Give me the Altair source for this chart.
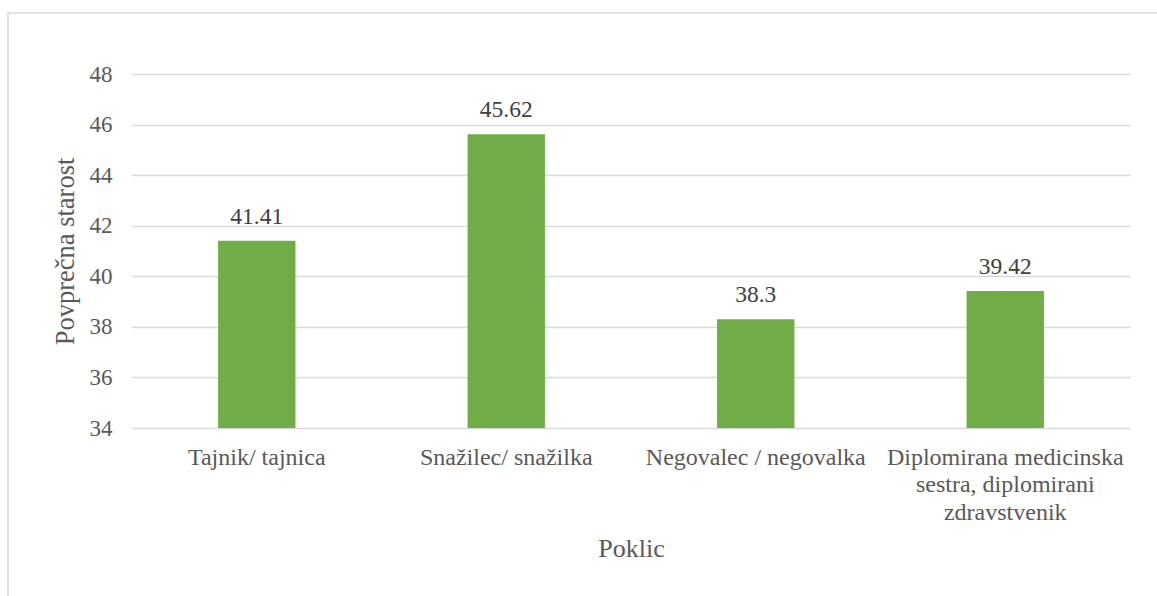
import altair as alt
import pandas as pd

# Average age by occupation
occupations = [
    "Tajnik/ tajnica",
    "Snažilec/ snažilka",
    "Negovalec / negovalka",
    "Diplomirana medicinska|sestra, diplomirani|zdravstvenik",
]
avg_age = [41.41, 45.62, 38.3, 39.42]
value_labels = ["41.41", "45.62", "38.3", "39.42"]
y_ticks = [34, 36, 38, 40, 42, 44, 46, 48]

df = pd.DataFrame({"poklic": occupations, "starost": avg_age, "oznaka": value_labels})

FONT = "Liberation Serif"
GREEN = "#70AD47"
GRID = "#D9D9D9"
TEXT = "#595959"

W, H = 998, 354
PAD_L, PAD_T = 132, 74

x_enc = alt.X(
    "poklic:N",
    sort=occupations,
    scale=alt.Scale(paddingInner=0.69, paddingOuter=0.345),
    axis=alt.Axis(
        title="Poklic",
        labelExpr="split(datum.label, '|')",
        labelAngle=0,
        labelFont=FONT,
        labelFontSize=24,
        labelColor=TEXT,
        labelLineHeight=27.5,
        labelPadding=17,
        ticks=False,
        domain=False,
        labelLimit=400,
        titleFont=FONT,
        titleFontSize=26,
        titleFontWeight="normal",
        titleColor=TEXT,
        titleY=128,
        titleBaseline="alphabetic",
    ),
)

y_enc = alt.Y(
    "starost:Q",
    scale=alt.Scale(domain=[34, 48], nice=False, zero=False),
    axis=alt.Axis(
        title="Povprečna starost",
        values=y_ticks,
        labelFont=FONT,
        labelFontSize=23,
        labelColor=TEXT,
        labelPadding=20,
        ticks=False,
        domain=False,
        grid=True,
        gridColor=GRID,
        gridWidth=1.5,
        titleFont=FONT,
        titleFontSize=26.5,
        titleFontWeight="normal",
        titleColor=TEXT,
        titleAngle=-90,
        titleX=-67,
        titleY=H / 2,
        titleAlign="center",
        titleBaseline="middle",
    ),
)

bars = alt.Chart(df).mark_bar(color=GREEN, clip=True).encode(x=x_enc, y=y_enc)

labels = alt.Chart(df).mark_text(
    font=FONT, fontSize=23.5, color="#404040", baseline="alphabetic", dy=-17
).encode(x=alt.X("poklic:N", sort=occupations), y="starost:Q", text="oznaka:N")

frame = alt.Chart(alt.Data(values=[{"f": 1}])).mark_rect(
    fill=None, stroke=GRID, strokeWidth=1.5
).encode(
    x=alt.value(8 - PAD_L),
    x2=alt.value(1157 - PAD_L + 10),
    y=alt.value(13 - PAD_T),
    y2=alt.value(596 - PAD_T + 10),
)

chart = (
    alt.layer(frame, bars, labels)
    .properties(
        width=W,
        height=H,
        padding={"left": PAD_L, "top": PAD_T, "right": 1157 - PAD_L - W, "bottom": 596 - PAD_T - H},
        autosize=alt.AutoSizeParams(type="none"),
        background="white",
    )
    .configure_view(stroke=None)
)

chart.save("out.html", embed_options={"renderer": "svg", "actions": False})
